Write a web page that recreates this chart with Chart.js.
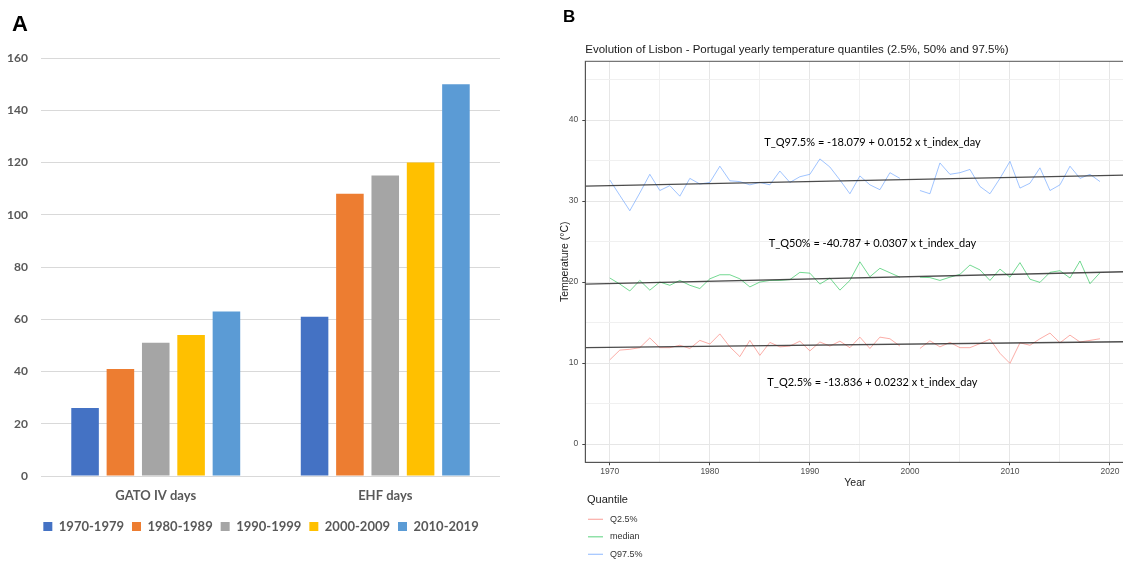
<!DOCTYPE html>
<html>
<head>
<meta charset="utf-8">
<script src="https://cdn.jsdelivr.net/npm/chart.js@4.4.1/dist/chart.umd.min.js"></script>
<style>
    html, body { margin: 0; padding: 0; background: #fff; overflow: hidden; width: 1123px; height: 562px; }
    #cajaA { position: absolute; left: 0; top: 0; width: 530px; height: 562px; }
    #cajaB { position: absolute; left: 540px; top: 0; width: 590px; height: 562px; }
    .letra { position: absolute; font-family: "Liberation Sans", Arial, sans-serif; font-weight: bold; line-height: 1; color: #000; }
</style>
</head>
<body>
<div id="cajaA"><canvas id="graficaA"></canvas></div>
<div id="cajaB"><canvas id="graficaB"></canvas></div>
<div class="letra" style="left:12px; top:12.5px; font-size:22px;">A</div>
<div class="letra" style="left:563px; top:8px; font-size:17px;">B</div>
<script>
// ---- Panel A: dias por decada ----
var categorias = ['GATO IV days', 'EHF days'];
var decadas = ['1970-1979', '1980-1989', '1990-1999', '2000-2009', '2010-2019'];
var dias1970 = [26, 61];
var dias1980 = [41, 108];
var dias1990 = [51, 115];
var dias2000 = [54, 120];
var dias2010 = [63, 150];
var coloresA = ['#4472C4', '#ED7D31', '#A5A5A5', '#FFC000', '#5B9BD5'];

// ---- Panel B: cuantiles anuales de temperatura en Lisboa ----
var anios = [1970, 1971, 1972, 1973, 1974, 1975, 1976, 1977, 1978, 1979,
    1980, 1981, 1982, 1983, 1984, 1985, 1986, 1987, 1988, 1989,
    1990, 1991, 1992, 1993, 1994, 1995, 1996, 1997, 1998, 1999,
    2000, 2001, 2002, 2003, 2004, 2005, 2006, 2007, 2008, 2009,
    2010, 2011, 2012, 2013, 2014, 2015, 2016, 2017, 2018, 2019];
var q025 = [10.4, 11.6, 11.7, 11.9, 13.1, 11.9, 11.9, 12.2, 11.8, 12.8,
    12.35, 13.6, 12.0, 10.8, 12.8, 10.95, 12.55, 12.0, 12.1, 12.7,
    11.5, 12.6, 12.1, 12.7, 11.9, 13.2, 11.8, 13.2, 13.0, 12.1,
    null, 11.8, 12.75, 12.0, 12.55, 11.9, 11.9, 12.4, 12.95, 11.2,
    9.96, 12.5, 12.2, 13.0, 13.7, 12.5, 13.45, 12.6, 12.8, 13.0];
var mediana = [20.5, 19.75, 18.9, 20.2, 19.0, 20.0, 19.6, 20.2, 19.6, 19.2,
    20.4, 20.9, 20.9, 20.4, 19.4, 20.0, 20.2, 20.2, 20.3, 21.2,
    21.1, 19.75, 20.5, 19.0, 20.2, 22.5, 20.65, 21.7, 21.15, 20.6,
    null, 20.6, 20.55, 20.2, 20.6, 20.95, 22.1, 21.5, 20.2, 21.6,
    20.6, 22.4, 20.35, 19.96, 21.2, 21.4, 20.5, 22.6, 19.8, 21.15];
var q975 = [32.6, 30.7, 28.8, 31.0, 33.3, 31.3, 31.9, 30.6, 32.8, 32.1,
    32.3, 34.3, 32.5, 32.4, 32.0, 32.3, 32.0, 33.7, 32.3, 33.0,
    33.3, 35.2, 34.2, 32.6, 30.9, 33.1, 32.0, 31.4, 33.5, 32.8,
    null, 31.3, 30.9, 34.7, 33.3, 33.5, 33.9, 31.8, 30.9, 32.8,
    34.9, 31.6, 32.2, 34.1, 31.3, 32.0, 34.3, 32.8, 33.3, 32.4];
// rectas de tendencia (extremos)
var tendX = [1967.55, 2021.45];
var tendQ025 = [11.9, 12.63];
var tendMediana = [19.75, 21.27];
var tendQ975 = [31.85, 33.2];
var marcasX = [1970, 1975, 1980, 1985, 1990, 1995, 2000, 2005, 2010, 2015, 2020];
var marcasY = [0, 5, 10, 15, 20, 25, 30, 35, 40, 45];
var ecuaciones = [
    { texto: 'T_Q97.5% = -18.079 + 0.0152 x t_index_day', x: 1996.25, y: 37.2 },
    { texto: 'T_Q50% = -40.787 + 0.0307 x t_index_day', x: 1996.25, y: 24.8 },
    { texto: 'T_Q2.5% = -13.836 + 0.0232 x t_index_day', x: 1996.25, y: 7.65 }
];
var nombresCuantil = ['Q2.5%', 'median', 'Q97.5%'];
var coloresB = ['rgba(248, 118, 109, 0.6)', 'rgba(0, 186, 56, 0.55)', 'rgba(97, 156, 255, 0.6)'];

var fuenteExcel = 'Lato, "Open Sans", sans-serif';
var fuenteR = '"Liberation Sans", Arial, sans-serif';

var datasetsA = [dias1970, dias1980, dias1990, dias2000, dias2010].map(function (serie, i) {
    return {
        label: decadas[i],
        data: serie,
        backgroundColor: coloresA[i],
        borderWidth: 0,
        barPercentage: 0.78,
        categoryPercentage: 0.77
    };
});

// la leyenda de Excel queda centrada bajo el area de dibujo, no bajo todo el lienzo
var moverLeyenda = {
    id: 'moverLeyenda',
    afterLayout: function (chart) {
        var lg = chart.legend;
        if (!lg) return;
        var dx = 11;
        lg.left += dx;
        lg.right += dx;
        lg.legendHitBoxes.forEach(function (h) { h.left += dx; });
    }
};

var graficaA = new Chart(document.getElementById('graficaA'), {
    type: 'bar',
    data: { labels: categorias, datasets: datasetsA },
    options: {
        responsive: true,
        maintainAspectRatio: false,
        animation: false,
        layout: { padding: { left: 0, right: 30, top: 58, bottom: 19 } },
        plugins: {
            tooltip: { enabled: false },
            legend: {
                position: 'bottom',
                labels: {
                    boxWidth: 9,
                    boxHeight: 9,
                    padding: 8,
                    color: '#595959',
                    font: { family: fuenteExcel, weight: 'bold', size: 13 }
                }
            }
        },
        scales: {
            x: {
                grid: { display: false },
                border: { display: false },
                ticks: { color: '#595959', padding: 4, font: { family: fuenteExcel, weight: 'bold', size: 13 } },
                afterFit: function (s) { s.height = 36; }
            },
            y: {
                min: 0,
                max: 160,
                ticks: { stepSize: 20, padding: 13, color: '#595959', font: { family: fuenteExcel, weight: 'bold', size: 12 } },
                grid: { color: '#d9d9d9', drawTicks: false },
                border: { display: false },
                afterFit: function (s) { s.width = 41; }
            }
        }
    },
    plugins: [moverLeyenda]
});

function puntos(xs, ys) {
    return xs.map(function (x, i) { return { x: x, y: ys[i] }; });
}

var datasetsB = [
    { label: 'tend Q2.5%', data: puntos(tendX, tendQ025), borderColor: 'rgba(45,45,45,0.85)', borderWidth: 1.3, order: 0 },
    { label: 'tend median', data: puntos(tendX, tendMediana), borderColor: 'rgba(45,45,45,0.85)', borderWidth: 1.3, order: 0 },
    { label: 'tend Q97.5%', data: puntos(tendX, tendQ975), borderColor: 'rgba(45,45,45,0.85)', borderWidth: 1.3, order: 0 },
    { label: nombresCuantil[0], data: puntos(anios, q025), borderColor: coloresB[0], borderWidth: 1, order: 1 },
    { label: nombresCuantil[1], data: puntos(anios, mediana), borderColor: coloresB[1], borderWidth: 1, order: 1 },
    { label: nombresCuantil[2], data: puntos(anios, q975), borderColor: coloresB[2], borderWidth: 1, order: 1 }
];
datasetsB.forEach(function (d) {
    d.pointRadius = 0;
    d.fill = false;
    d.tension = 0;
    d.spanGaps = false;
});

var extrasB = {
    id: 'extrasB',
    afterDraw: function (chart) {
        var ctx = chart.ctx;
        var area = chart.chartArea;
        var sx = chart.scales.x, sy = chart.scales.y;
        ctx.save();
        // borde del panel
        ctx.strokeStyle = '#555';
        ctx.lineWidth = 1;
        ctx.strokeRect(area.left, area.top, area.right - area.left, area.bottom - area.top);
        // titulo
        ctx.fillStyle = '#1a1a1a';
        ctx.font = '11.5px ' + fuenteR;
        ctx.textAlign = 'left';
        ctx.textBaseline = 'middle';
        ctx.fillText('Evolution of Lisbon - Portugal yearly temperature quantiles (2.5%, 50% and 97.5%)', area.left, 50);
        // ecuaciones de las rectas
        ctx.fillStyle = '#000';
        ctx.font = '11px ' + fuenteExcel;
        ctx.textAlign = 'center';
        ecuaciones.forEach(function (e) {
            ctx.fillText(e.texto, sx.getPixelForValue(e.x), sy.getPixelForValue(e.y));
        });
        // leyenda
        ctx.textAlign = 'left';
        ctx.fillStyle = '#1a1a1a';
        ctx.font = '11px ' + fuenteR;
        ctx.fillText('Quantile', 47, 499.5);
        ctx.font = '9px ' + fuenteR;
        nombresCuantil.forEach(function (n, i) {
            var y = 519.3 + i * 17.5;
            ctx.strokeStyle = coloresB[i];
            ctx.lineWidth = 1.2;
            ctx.beginPath();
            ctx.moveTo(48, y);
            ctx.lineTo(63, y);
            ctx.stroke();
            ctx.fillStyle = '#333';
            ctx.fillText(n, 70, y);
        });
        ctx.restore();
    }
};

function colorRejilla(c) {
    return c.tick && c.tick.value % 10 === 0 ? '#e6e6e6' : '#f0f0f0';
}
function colorMarca(c) {
    return c.tick && c.tick.value % 10 === 0 ? '#444' : 'rgba(0,0,0,0)';
}

var graficaB = new Chart(document.getElementById('graficaB'), {
    type: 'line',
    data: { datasets: datasetsB },
    options: {
        responsive: true,
        maintainAspectRatio: false,
        animation: false,
        layout: { padding: { left: 0, right: 5.5, top: 61.3, bottom: 69.7 } },
        plugins: { legend: { display: false }, tooltip: { enabled: false } },
        scales: {
            x: {
                type: 'linear',
                min: 1967.55,
                max: 2021.45,
                afterBuildTicks: function (s) { s.ticks = marcasX.map(function (v) { return { value: v }; }); },
                afterFit: function (s) { s.height = 30; },
                ticks: {
                    autoSkip: false,
                    maxRotation: 0,
                    padding: 1.5,
                    color: '#4d4d4d',
                    font: { family: fuenteR, size: 8.5 },
                    callback: function (v) { return v % 10 === 0 ? String(v) : ''; }
                },
                grid: { color: colorRejilla, tickColor: colorMarca, tickLength: 3 },
                border: { color: '#555', width: 1 },
                title: { display: true, text: 'Year', color: '#1a1a1a', font: { family: fuenteR, size: 10.5 }, padding: { top: 0, bottom: 3 } }
            },
            y: {
                min: -2.25,
                max: 47.25,
                afterBuildTicks: function (s) { s.ticks = marcasY.map(function (v) { return { value: v }; }); },
                afterFit: function (s) { s.width = 45.3; },
                ticks: {
                    autoSkip: false,
                    padding: 4,
                    color: '#4d4d4d',
                    font: { family: fuenteR, size: 8.5 },
                    callback: function (v) { return v % 10 === 0 ? String(v) : ''; }
                },
                grid: { color: colorRejilla, tickColor: colorMarca, tickLength: 3 },
                border: { color: '#555', width: 1 },
                title: { display: true, text: 'Temperature (°C)', color: '#1a1a1a', font: { family: fuenteR, size: 10.5 }, padding: { top: 18.5, bottom: 0 } }
            }
        }
    },
    plugins: [extrasB]
});
</script>
</body>
</html>
